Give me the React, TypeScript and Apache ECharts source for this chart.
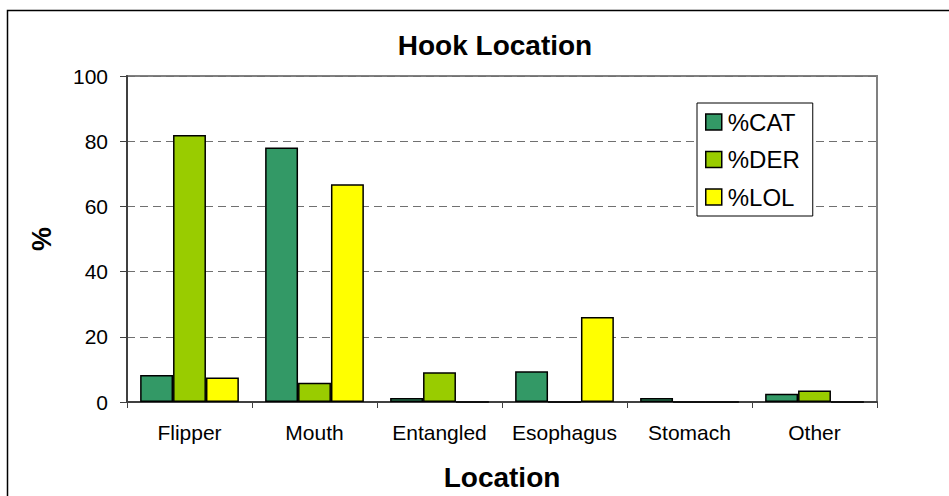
import React, { useEffect, useRef } from "react";
import * as echarts from "echarts";

const categories = ["Flipper", "Mouth", "Entangled", "Esophagus", "Stomach", "Other"];
const catValues = [8.3, 78.1, 1.2, 9.4, 1.2, 2.5];
const derValues = [81.9, 5.9, 9.1, 0, 0, 3.5];
const lolValues = [7.5, 66.8, 0, 26.1, 0, 0];
const seriesNames = ["%CAT", "%DER", "%LOL"];
const seriesColors = ["#339966", "#99CC00", "#FFFF00"];

const FONT = "'Liberation Sans', Arial, sans-serif";

export default function App() {
  const ref = useRef<HTMLDivElement>(null);
  useEffect(() => {
    document.body.style.margin = "0";
    if (!ref.current) return;
    const chart = echarts.init(ref.current, null, { renderer: "svg" });
    const data = [catValues, derValues, lolValues];
    chart.setOption({
      animation: false,
      backgroundColor: "#ffffff",
      textStyle: { fontFamily: FONT },
      title: {
        text: "Hook Location",
        left: 490,
        textAlign: "center",
        top: 26,
        textStyle: { fontFamily: FONT, fontSize: 28, fontWeight: "bold", color: "#000" },
      },
      graphic: [
        {
          type: "rect",
          shape: { x: 7.5, y: 10.5, width: 1000, height: 600 },
          style: { fill: "none", stroke: "#000", lineWidth: 1.5 },
          silent: true,
          z: 100,
        },
      ],
      legend: {
        orient: "vertical",
        left: 697,
        top: 103,
        padding: [7, 13, 7, 8],
        itemGap: 13.5,
        itemWidth: 16,
        itemHeight: 16,
        itemStyle: { borderColor: "#000", borderWidth: 1.5 },
        backgroundColor: "#fff",
        borderColor: "#000",
        borderWidth: 1,
        textStyle: { fontFamily: FONT, fontSize: 24, color: "#000", padding: [0, 0, 0, 1] },
        data: seriesNames.map((n) => ({ name: n, icon: "rect" })),
      },
      grid: {
        left: 127,
        right: 72,
        top: 76,
        bottom: 94,
        show: true,
        borderColor: "#808080",
        borderWidth: 2,
        backgroundColor: "transparent",
      },
      xAxis: {
        type: "category",
        data: categories,
        name: "Location",
        nameLocation: "middle",
        nameGap: 61,
        nameTextStyle: { fontFamily: FONT, fontSize: 28, fontWeight: "bold", color: "#000" },
        axisLine: { lineStyle: { color: "#404040", width: 2 } },
        axisTick: { show: true, length: 6, lineStyle: { color: "#404040", width: 1 } },
        axisLabel: { fontFamily: FONT, fontSize: 21, color: "#000", margin: 20, interval: 0 },
      },
      yAxis: {
        type: "value",
        min: 0,
        max: 100,
        interval: 20,
        name: "%",
        nameLocation: "middle",
        nameGap: 72,
        nameRotate: 90,
        nameTextStyle: { fontFamily: FONT, fontSize: 27, fontWeight: "bold", color: "#000" },
        axisLine: { show: true, lineStyle: { color: "#404040", width: 2 } },
        axisTick: { show: true, length: 7, lineStyle: { color: "#404040", width: 1 } },
        axisLabel: { fontFamily: FONT, fontSize: 21, color: "#000", margin: 19 },
        splitLine: { show: true, lineStyle: { color: "#707070", type: [8, 5], width: 1 } },
      },
      series: seriesNames.map((n, i) => ({
        name: n,
        type: "bar",
        data: data[i],
        barGap: "0%",
        barCategoryGap: "21%",
        itemStyle: { color: seriesColors[i], borderColor: "#000", borderWidth: 1.5 },
      })),
    });
    return () => chart.dispose();
  }, []);
  return <div ref={ref} style={{ width: 949, height: 496 }} />;
}
